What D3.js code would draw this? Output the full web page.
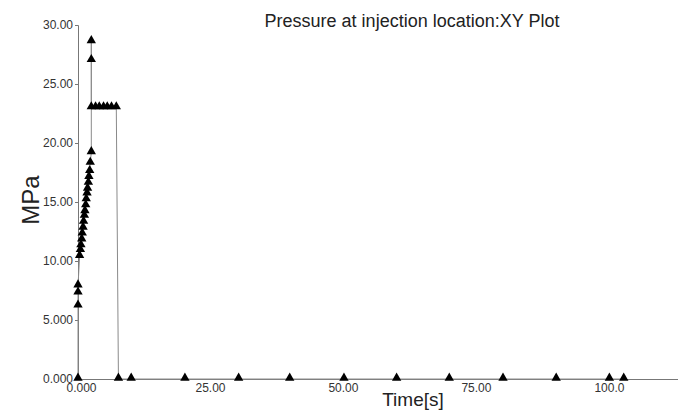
<!DOCTYPE html>
<meta charset="utf-8">
<style>
body {
  margin: 0;
  background: #fff;
}
svg text {
  font-family: "Liberation Sans", Arial, sans-serif;
}
.tick text {
  fill: #333;
  font-size: 12px;
}
</style>
<div id="chart"></div>
<script src="https://d3js.org/d3.v7.min.js"></script>
<script>
  var width = 678, height = 410;

  // time [s] and pressure [MPa]
  var times = [0, 0, 0, 0, 0.3, 0.45, 0.55, 0.7, 0.8, 0.95, 1.05, 1.2, 1.3, 1.45, 1.55,
    1.7, 1.8, 1.95, 2.05, 2.2, 2.3, 2.5, 2.5, 2.5, 2.5, 3.3, 4.0, 4.8, 5.5, 6.3, 7.2,
    7.6, 10, 20.1, 30.2, 39.8, 50, 59.9, 69.8, 79.9, 89.9, 99.9, 102.6];
  var pressures = [0, 6.2, 7.3, 7.9, 10.4, 10.9, 11.3, 11.8, 12.3, 12.8, 13.3, 13.8, 14.2,
    14.7, 15.2, 15.7, 16.1, 16.6, 17.1, 17.6, 18.3, 19.2, 28.6, 27.0, 23.0, 23.0, 23.0,
    23.0, 23.0, 23.0, 23.0, 0, 0, 0, 0, 0, 0, 0, 0, 0, 0, 0, 0];

  var xTicks = [0, 25, 50, 75, 100];
  var xTickLabels = ["0.000", "25.00", "50.00", "75.00", "100.0"];
  var yTicks = [0, 5, 10, 15, 20, 25, 30];
  var yTickLabels = ["0.000", "5.000", "10.00", "15.00", "20.00", "25.00", "30.00"];

  var title = "Pressure at injection location:XY Plot";
  var xTitle = "Time[s]";
  var yTitle = "MPa";

  var points = times.map(function(t, i) { return { t: t, p: pressures[i] }; });

  var svg = d3.select("#chart")
    .append("svg")
    .attr("width", width)
    .attr("height", height);

  var x = d3.scaleLinear().domain([0, 112.8]).range([78, 678]);
  var y = d3.scaleLinear().domain([0, 30]).range([379, 25]);

  // y axis
  var yAxis = svg.append("g")
    .attr("transform", "translate(78,0)")
    .call(d3.axisLeft(y)
      .tickValues(yTicks)
      .tickSize(3)
      .tickPadding(2)
      .tickFormat(function(d, i) { return yTickLabels[i]; }));
  yAxis.select(".domain").attr("stroke", "#777");
  yAxis.selectAll(".tick line").attr("stroke", "#777");

  // x axis
  var xAxis = svg.append("g")
    .attr("transform", "translate(0,379)")
    .call(d3.axisBottom(x)
      .tickValues(xTicks)
      .tickSize(0)
      .tickPadding(4)
      .tickFormat(function(d, i) { return xTickLabels[i]; }));
  xAxis.select(".domain").attr("stroke", "#777");
  xAxis.selectAll(".tick text").attr("dx", function(d, i) { return i == 0 ? 3 : -1; });

  var line = d3.line()
    .x(function(d) { return x(d.t); })
    .y(function(d) { return y(d.p); });

  svg.append("path")
    .datum(points)
    .attr("fill", "none")
    .attr("stroke", "#8a8a8a")
    .attr("stroke-width", 1)
    .attr("d", line);

  var tri = d3.symbol().type(d3.symbolTriangle).size(38);

  svg.selectAll(".marker")
    .data(points)
    .enter()
    .append("path")
    .attr("class", "marker")
    .attr("d", tri)
    .attr("fill", "#000")
    .attr("transform", function(d) {
      return "translate(" + x(d.t) + "," + (y(d.p) - 1) + ")";
    });

  svg.append("text")
    .attr("x", 412)
    .attr("y", 27)
    .attr("text-anchor", "middle")
    .attr("font-size", "18px")
    .attr("fill", "#222")
    .text(title);

  svg.append("text")
    .attr("x", 413)
    .attr("y", 406)
    .attr("text-anchor", "middle")
    .attr("font-size", "19px")
    .attr("fill", "#222")
    .text(xTitle);

  svg.append("text")
    .attr("transform", "translate(39,200) rotate(-90)")
    .attr("text-anchor", "middle")
    .attr("font-size", "24px")
    .attr("fill", "#222")
    .text(yTitle);
</script>
